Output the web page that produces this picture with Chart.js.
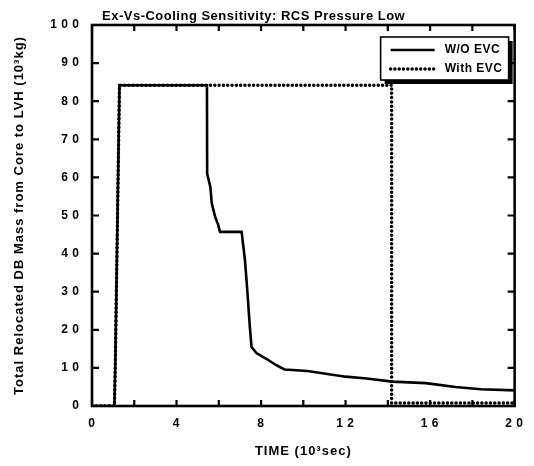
<!DOCTYPE html>
<html>
<head>
<meta charset="utf-8">
<script src="https://cdn.jsdelivr.net/npm/chart.js@4.4.1/dist/chart.umd.min.js"></script>
<style>
  html, body { margin: 0; padding: 0; background: #fff; }
  #chart { display: block; }
</style>
</head>
<body>
<canvas id="chart" width="534" height="466"></canvas>
<script>
const chartTitle = 'Ex-Vs-Cooling Sensitivity: RCS Pressure Low'
const xTitle = 'TIME (10³sec)'
const yTitle = 'Total Relocated DB Mass from Core to LVH (10³kg)'
const seriesNames = ['W/O EVC', 'With EVC']

// time in 10^3 sec, relocated mass in 10^3 kg
const woEvcTime = [0, 1.06, 1.1, 1.3, 5.44, 5.45, 5.6, 5.67, 5.83, 5.95, 6.06, 7.08, 7.24, 7.36, 7.47,
  7.55, 7.78, 8.25, 8.72, 9.11, 10.2, 12, 13, 14.2, 15.8, 17.2, 18.4, 20]
const woEvcMass = [0, 0, 10, 84.2, 84.2, 61, 57.5, 53.1, 49.6, 47.9, 45.7, 45.7, 38.2, 29.5, 20.7,
  15.5, 13.9, 12.4, 10.7, 9.6, 9.2, 7.7, 7.2, 6.4, 6.0, 5.0, 4.4, 4.1]

const withEvcTime = [0, 1.06, 1.1, 1.3, 14.18, 14.18, 20]
const withEvcMass = [0, 0, 10, 84.2, 84.2, 0.8, 0.8]

const xMin = 0, xMax = 20, xStep = 2, xLabelStep = 4
const yMin = 0, yMax = 100, yStep = 10

const fontFamily = '"Liberation Sans", Arial, sans-serif'

// tick digits in the original are widely spaced
const spaced = v => String(v).split('').join('\u2009')

const toPoints = (xs, ys) => xs.map((x, i) => ({ x: x, y: ys[i] }))

// the plotter font is wider than Arial, so spread the letters a little
const letterSpacingPlugin = {
  id: 'letterSpacing',
  beforeUpdate(chart) { chart.ctx.letterSpacing = '1px' },
  beforeDraw(chart) { chart.ctx.letterSpacing = '1px' }
}

// box around the plot with inward ticks on all four sides
const framePlugin = {
  id: 'frame',
  afterDatasetsDraw(chart) {
    const { ctx, chartArea: a, scales: { x, y } } = chart
    ctx.save()
    ctx.strokeStyle = '#000'
    ctx.lineWidth = 2.2
    ctx.beginPath()
    x.ticks.forEach(t => {
      const px = x.getPixelForValue(t.value)
      ctx.moveTo(px, a.bottom); ctx.lineTo(px, a.bottom - 6)
      ctx.moveTo(px, a.top); ctx.lineTo(px, a.top + 6)
    })
    y.ticks.forEach(t => {
      const py = y.getPixelForValue(t.value)
      ctx.moveTo(a.left, py); ctx.lineTo(a.left + 7, py)
      ctx.moveTo(a.right, py); ctx.lineTo(a.right - 7, py)
    })
    ctx.stroke()
    ctx.lineWidth = 2.6
    ctx.strokeRect(a.left, a.top, a.right - a.left, a.bottom - a.top)
    ctx.restore()
  }
}

// legend box with drop shadow, inside the top right corner
const boxLegendPlugin = {
  id: 'boxLegend',
  afterDatasetsDraw(chart) {
    const { ctx, chartArea: a } = chart
    const w = 128, h = 43
    const left = a.right - 6 - w
    const top = a.top + 12
    ctx.save()
    ctx.fillStyle = '#000'
    ctx.fillRect(left + 4, top + 4, w, h)
    ctx.fillStyle = '#fff'
    ctx.fillRect(left, top, w, h)
    ctx.strokeStyle = '#000'
    ctx.lineWidth = 1.6
    ctx.strokeRect(left, top, w, h)
    ctx.font = 'bold 12px ' + fontFamily
    ctx.letterSpacing = '0.5px'
    ctx.textBaseline = 'middle'
    chart.data.datasets.forEach((ds, i) => {
      const ly = top + 13 + i * 19
      ctx.beginPath()
      ctx.lineWidth = ds.borderWidth
      ctx.lineCap = ds.borderCapStyle || 'butt'
      ctx.setLineDash(ds.borderDash || [])
      ctx.moveTo(left + 10, ly)
      ctx.lineTo(left + 54, ly)
      ctx.stroke()
      ctx.setLineDash([])
      ctx.fillStyle = '#000'
      ctx.fillText(ds.label, left + 64, ly)
    })
    ctx.restore()
  }
}

const topTitlePlugin = {
  id: 'topTitle',
  afterDraw(chart) {
    const { ctx, chartArea: a } = chart
    ctx.save()
    ctx.fillStyle = '#000'
    ctx.font = 'bold 13px ' + fontFamily
    ctx.textBaseline = 'middle'
    ctx.letterSpacing = '0.5px'
    ctx.fillText(chartTitle, a.left + 10, 16)
    ctx.restore()
  }
}

new Chart(document.getElementById('chart'), {
  type: 'line',
  data: {
    datasets: [{
      label: seriesNames[0],
      data: toPoints(woEvcTime, woEvcMass),
      borderColor: '#000',
      borderWidth: 2.6,
      pointRadius: 0,
      tension: 0,
      order: 1
    }, {
      label: seriesNames[1],
      data: toPoints(withEvcTime, withEvcMass),
      borderColor: '#000',
      borderWidth: 3.5,
      borderDash: [0, 4.3],
      borderCapStyle: 'round',
      pointRadius: 0,
      tension: 0,
      order: 0
    }]
  },
  options: {
    responsive: false,
    animation: false,
    devicePixelRatio: 1,
    layout: { padding: { left: 5, top: 25, right: 15, bottom: 0 } },
    plugins: {
      legend: { display: false },
      title: { display: false },
      tooltip: { enabled: false }
    },
    scales: {
      x: {
        type: 'linear',
        min: xMin,
        max: xMax,
        border: { display: false },
        grid: { display: false, drawTicks: false },
        ticks: {
          stepSize: xStep,
          autoSkip: false,
          maxRotation: 0,
          padding: 10,
          color: '#000',
          font: { family: fontFamily, size: 12, weight: 'bold' },
          callback: v => v % xLabelStep === 0 ? spaced(v) : ''
        },
        title: {
          display: true,
          text: xTitle,
          color: '#000',
          font: { family: fontFamily, size: 13, weight: 'bold' },
          padding: { top: 0, bottom: 7 }
        },
        afterFit: scale => { scale.height = 60 }
      },
      y: {
        min: yMin,
        max: yMax,
        border: { display: false },
        grid: { display: false, drawTicks: false },
        ticks: {
          stepSize: yStep,
          padding: 12,
          color: '#000',
          font: { family: fontFamily, size: 12, weight: 'bold' },
          callback: v => spaced(v)
        },
        title: {
          display: true,
          text: yTitle,
          color: '#000',
          font: { family: fontFamily, size: 13, weight: 'bold' },
          padding: { top: 7, bottom: 0 }
        },
        afterFit: scale => { scale.width = 87 }
      }
    }
  },
  plugins: [letterSpacingPlugin, framePlugin, boxLegendPlugin, topTitlePlugin]
})
</script>
</body>
</html>
